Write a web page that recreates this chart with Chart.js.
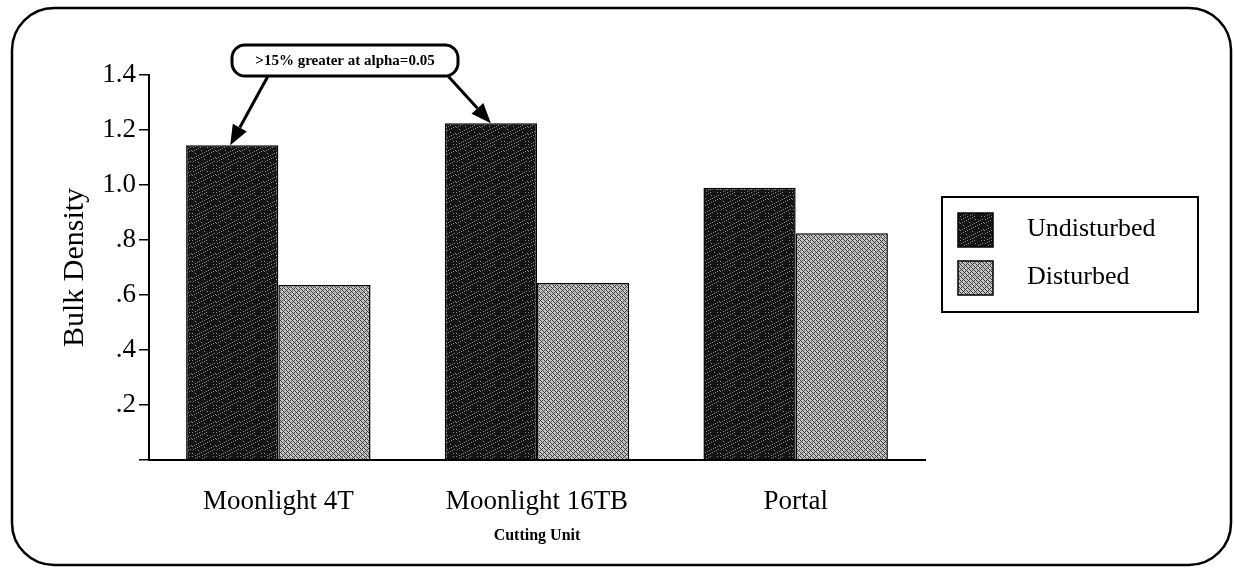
<!DOCTYPE html>
<html>
<head>
<meta charset="utf-8">
<script src="https://cdn.jsdelivr.net/npm/chart.js@4"></script>
<style>
  html, body { margin: 0; padding: 0; background: #fff; }
  canvas { display: block; }
</style>
</head>
<body>
<canvas id="bdChart" width="1234" height="573"></canvas>
<script>
const categories = ['Moonlight 4T', 'Moonlight 16TB', 'Portal'];
const undisturbed = [1.145, 1.225, 0.99];
const disturbed = [0.636, 0.644, 0.825];
const yTickLabels = ['', '.2', '.4', '.6', '.8', '1.0', '1.2', '1.4'];
const note = '>15% greater at alpha=0.05';
const noteBars = [0, 1];   // undisturbed bars the callout points to

const serif = '"Liberation Serif", "Times New Roman", serif';

// stippled fills, like the scanned original
function stipple(base, dot, hit) {
    const c = document.createElement('canvas');
    c.width = 24; c.height = 24;
    const g = c.getContext('2d');
    g.fillStyle = base;
    g.fillRect(0, 0, 24, 24);
    g.fillStyle = dot;
    for (let x = 0; x < 24; x++) {
        for (let y = 0; y < 24; y++) {
            if (hit(x, y)) g.fillRect(x, y, 1, 1);
        }
    }
    return g.createPattern(c, 'repeat');
}
const ctx = document.getElementById('bdChart').getContext('2d');
const darkFill = stipple('#141414', '#8c8c8c', (x, y) => (x + 2 * y) % 7 === 0 && (x * y) % 3 !== 1);
const lightFill = stipple('#c4c4c4', '#3c3c3c', (x, y) => (3 * x + 5 * y) % 4 === 0 || (x + y) % 6 === 0);

function roundRect(g, x, y, w, h, r) {
    g.beginPath();
    g.moveTo(x + r, y);
    g.arcTo(x + w, y, x + w, y + h, r);
    g.arcTo(x + w, y + h, x, y + h, r);
    g.arcTo(x, y + h, x, y, r);
    g.arcTo(x, y, x + w, y, r);
    g.closePath();
}

function arrow(g, x1, y1, x2, y2) {
    const a = Math.atan2(y2 - y1, x2 - x1);
    const len = 20, half = 8;
    const bx = x2 - len * Math.cos(a), by = y2 - len * Math.sin(a);
    g.beginPath();
    g.moveTo(x1, y1);
    g.lineTo(bx, by);
    g.stroke();
    g.beginPath();
    g.moveTo(x2, y2);
    g.lineTo(bx + half * Math.sin(a), by - half * Math.cos(a));
    g.lineTo(bx - half * Math.sin(a), by + half * Math.cos(a));
    g.closePath();
    g.fill();
}

const decorations = {
    id: 'decorations',
    afterDraw(chart) {
        const g = chart.ctx;
        g.save();
        g.strokeStyle = '#000';
        g.fillStyle = '#000';

        // outer frame
        g.lineWidth = 2.5;
        roundRect(g, 12, 8, 1219, 557, 42);
        g.stroke();

        // callout
        const bars = chart.getDatasetMeta(0).data;
        g.lineWidth = 3;
        arrow(g, 268, 76, bars[noteBars[0]].x - 2, bars[noteBars[0]].y);
        arrow(g, 448, 76, bars[noteBars[1]].x, bars[noteBars[1]].y);
        roundRect(g, 232, 45, 226, 31, 13);
        g.fillStyle = '#fff';
        g.fill();
        g.stroke();
        g.fillStyle = '#000';
        g.font = 'bold 15px ' + serif;
        g.textAlign = 'center';
        g.textBaseline = 'middle';
        g.fillText(note, 345, 61);

        // legend
        g.lineWidth = 2;
        g.strokeRect(942, 197, 256, 115);
        g.font = '26px ' + serif;
        g.textAlign = 'left';
        chart.data.datasets.forEach((ds, i) => {
            const y = 213 + i * 48;
            g.fillStyle = ds.backgroundColor;
            g.fillRect(958, y, 35, 34);
            g.lineWidth = 1.5;
            g.strokeRect(958, y, 35, 34);
            g.fillStyle = '#000';
            g.fillText(ds.label, 1027, y + 16);
        });
        g.restore();
    }
};

new Chart(ctx, {
    type: 'bar',
    data: {
        labels: categories,
        datasets: [{
            label: 'Undisturbed',
            data: undisturbed,
            backgroundColor: darkFill,
            borderColor: '#000',
            borderWidth: 1.5,
            borderSkipped: 'bottom',
            categoryPercentage: 0.713,
            barPercentage: 1.0
        }, {
            label: 'Disturbed',
            data: disturbed,
            backgroundColor: lightFill,
            borderColor: '#000',
            borderWidth: 1.5,
            borderSkipped: 'bottom',
            categoryPercentage: 0.713,
            barPercentage: 1.0
        }]
    },
    options: {
        responsive: false,
        animation: false,
        devicePixelRatio: 1,
        layout: { padding: { top: 75, right: 309, bottom: 0, left: 0 } },
        plugins: {
            legend: { display: false },
            tooltip: { enabled: false }
        },
        scales: {
            x: {
                grid: { display: false },
                border: { display: true, color: '#000', width: 2 },
                ticks: {
                    color: '#000',
                    padding: 18,
                    maxRotation: 0,
                    font: { family: serif, size: 27 }
                },
                title: {
                    display: true,
                    text: 'Cutting Unit',
                    color: '#000',
                    font: { family: serif, size: 16, weight: 'bold' },
                    padding: { top: 0, bottom: 28 }
                },
                afterFit: s => { s.height = 113; }
            },
            y: {
                min: 0,
                max: 1.4,
                grid: {
                    drawOnChartArea: false,
                    drawTicks: true,
                    tickLength: 10,
                    color: '#000',
                    lineWidth: 1.5
                },
                border: { display: true, color: '#000', width: 2 },
                ticks: {
                    stepSize: 0.2,
                    color: '#000',
                    padding: 3,
                    font: { family: serif, size: 27 },
                    callback: (v, i) => yTickLabels[i]
                },
                title: {
                    display: true,
                    text: 'Bulk Density',
                    color: '#000',
                    font: { family: serif, size: 30 },
                    padding: { top: 57, bottom: 0 }
                },
                afterFit: s => { s.width = 149; }
            }
        }
    },
    plugins: [decorations]
});
</script>
</body>
</html>
